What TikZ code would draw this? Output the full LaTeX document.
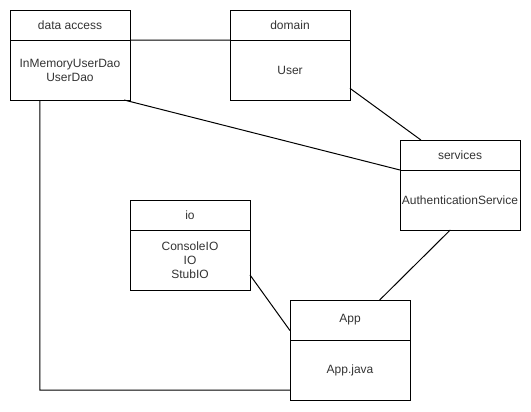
\documentclass[tikz,border=0pt]{standalone}
\usepackage{fontspec}
\setmainfont{Liberation Sans}
\usetikzlibrary{positioning}
\definecolor{txtgray}{RGB}{51,51,51}
\begin{document}
\begin{tikzpicture}[x=0.75pt, y=-0.75pt, line width=0.75pt]
        \tikzstyle{every node}=[draw, rectangle, minimum width=90pt, inner sep=1pt,
          outer sep=0pt, align=center, text=txtgray, font=\fontsize{9}{10.5}\selectfont]
        \useasboundingbox (0,0) rectangle (531,411);

        \foreach \n/\x/\y/\hh/\h/\b in {da/70/25/22.5pt/data access/{InMemoryUserDao\\UserDao},
            dom/290/25/22.5pt/domain/User,
            sv/460/155/22.5pt/services/AuthenticationService,
            io/190/215/22.5pt/io/{ConsoleIO\\IO\\StubIO},
            app/350/320/30pt/App/App.java}
        {
          \path (\x,\y) node[minimum height=\hh] (\n h) {\h};
          \node[below=0pt of \n h, minimum height=45pt] (\n b) {\b};
        }

        \draw
          (dab.north east) -- (domb.north west)
          (domb.-17) -- (svh.159)
          (dab.-29) -- (svb.north west)
          (svb.-108) -- (apph.34)
          (iob.-14) -- (apph.-170)
          (dab.-135) |- ([yshift=7.5pt]appb.south west);
      \end{tikzpicture}
\end{document}
